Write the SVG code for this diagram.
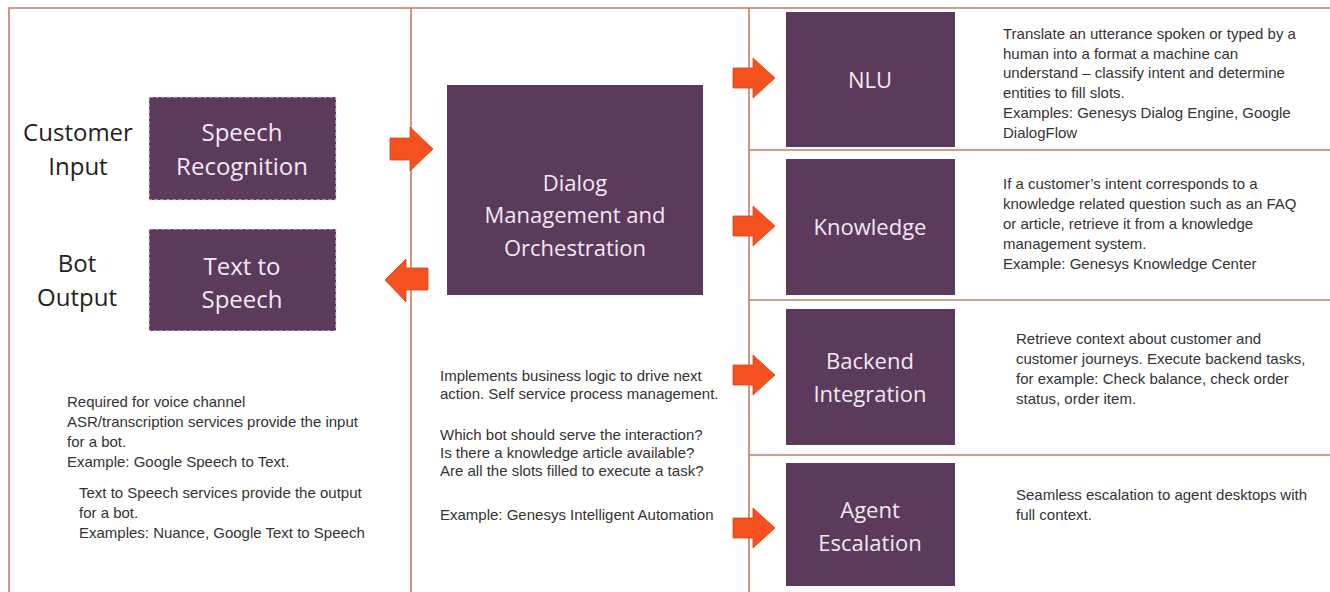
<svg xmlns="http://www.w3.org/2000/svg" width="1330" height="592" viewBox="0 0 1330 592">
<defs>
<style>
.line{stroke:#c97a62;stroke-width:1.6;fill:none}
.box{fill:#5b3a5b}
.dash{stroke:#e8d8e8;stroke-width:1;stroke-dasharray:4 2}
.bt{font-family:"Open Sans","Liberation Sans",sans-serif;fill:#f3e9f3;text-anchor:middle;font-size:22px}
.bl{font-size:24px}
.lbl{font-family:"Open Sans","Liberation Sans",sans-serif;fill:#222;text-anchor:middle;font-size:24px}
.d{font-family:"Liberation Sans",sans-serif;fill:#333;font-size:15px}
.arr{fill:#f4511e;stroke:#d9431a;stroke-width:0.8}
</style>
</defs>
<rect width="1330" height="592" fill="#ffffff"/>
<g id="frame">
<path class="line" d="M9,592 V8 H1330 M411,8 V592 M749,8 V592 M749,150 H1330 M749,300 H1330 M749,455 H1330"/>
</g>
<g id="labels">
<text class="lbl" x="78" y="141">Customer</text>
<text class="lbl" x="78" y="175">Input</text>
<text class="lbl" x="77" y="272">Bot</text>
<text class="lbl" x="77" y="306">Output</text>
</g>
<g id="speech-recognition">
<rect class="box dash" x="149" y="97" width="187" height="103"/>
<text class="bt bl" x="242" y="141">Speech</text>
<text class="bt bl" x="242" y="175">Recognition</text>
</g>
<g id="text-to-speech">
<rect class="box dash" x="149" y="229" width="187" height="102"/>
<text class="bt bl" x="242" y="275">Text to</text>
<text class="bt bl" x="242" y="308">Speech</text>
</g>
<g id="dialog-management">
<rect class="box" x="447" y="85" width="256" height="210"/>
<text class="bt" x="575" y="191" font-size="25.5">Dialog</text>
<text class="bt" x="575" y="223" font-size="25.5">Management and</text>
<text class="bt" x="575" y="256" font-size="25.5">Orchestration</text>
</g>
<g id="nlu">
<rect class="box" x="786" y="12" width="169" height="135"/>
<text class="bt" x="870" y="88">NLU</text>
</g>
<g id="knowledge">
<rect class="box" x="786" y="159" width="169" height="136"/>
<text class="bt" x="870" y="235">Knowledge</text>
</g>
<g id="backend-integration">
<rect class="box" x="786" y="309" width="169" height="136"/>
<text class="bt" x="870" y="369">Backend</text>
<text class="bt" x="870" y="402">Integration</text>
</g>
<g id="agent-escalation">
<rect class="box" x="786" y="463" width="169" height="123"/>
<text class="bt" x="870" y="518">Agent</text>
<text class="bt" x="870" y="551">Escalation</text>
</g>
<g id="connectors">
<path class="arr" d="M390,138 H410 V127 L433,149 L410,171 V160 H390 Z"/>
<path class="arr" d="M428,268 H406 V259 L385,280 L406,302 V290 H428 Z"/>
<path class="arr" d="M733,68 H753 V58 L775,78 L753,98 V88 H733 Z"/>
<path class="arr" d="M733,216 H753 V206 L775,226 L753,246 V236 H733 Z"/>
<path class="arr" d="M733,365 H753 V355 L775,375 L753,395 V385 H733 Z"/>
<path class="arr" d="M733,518 H753 V508 L775,528 L753,548 V538 H733 Z"/>
</g>
<g id="desc-left">
<text class="d" x="67" y="407">Required for voice channel</text>
<text class="d" x="67" y="427">ASR/transcription services provide the input</text>
<text class="d" x="67" y="447">for a bot.</text>
<text class="d" x="67" y="467">Example: Google Speech to Text.</text>
<text class="d" x="79" y="498">Text to Speech services provide the output</text>
<text class="d" x="79" y="518">for a bot.</text>
<text class="d" x="79" y="538">Examples: Nuance, Google Text to Speech</text>
</g>
<g id="desc-middle">
<text class="d" x="440" y="381">Implements business logic to drive next</text>
<text class="d" x="440" y="399">action. Self service process management.</text>
<text class="d" x="440" y="440">Which bot should serve the interaction?</text>
<text class="d" x="440" y="458">Is there a knowledge article available?</text>
<text class="d" x="440" y="476">Are all the slots filled to execute a task?</text>
<text class="d" x="440" y="520">Example: Genesys Intelligent Automation</text>
</g>
<g id="desc-nlu">
<text class="d" x="1003" y="39">Translate an utterance spoken or typed by a</text>
<text class="d" x="1003" y="59">human into a format a machine can</text>
<text class="d" x="1003" y="78">understand – classify intent and determine</text>
<text class="d" x="1003" y="98">entities to fill slots.</text>
<text class="d" x="1003" y="118">Examples: Genesys Dialog Engine, Google</text>
<text class="d" x="1003" y="138">DialogFlow</text>
</g>
<g id="desc-knowledge">
<text class="d" x="1003" y="189">If a customer’s intent corresponds to a</text>
<text class="d" x="1003" y="209">knowledge related question such as an FAQ</text>
<text class="d" x="1003" y="229">or article, retrieve it from a knowledge</text>
<text class="d" x="1003" y="249">management system.</text>
<text class="d" x="1003" y="269">Example: Genesys Knowledge Center</text>
</g>
<g id="desc-backend">
<text class="d" x="1016" y="344">Retrieve context about customer and</text>
<text class="d" x="1016" y="364">customer journeys. Execute backend tasks,</text>
<text class="d" x="1016" y="384">for example: Check balance, check order</text>
<text class="d" x="1016" y="404">status, order item.</text>
</g>
<g id="desc-agent">
<text class="d" x="1016" y="500">Seamless escalation to agent desktops with</text>
<text class="d" x="1016" y="520">full context.</text>
</g>
</svg>
